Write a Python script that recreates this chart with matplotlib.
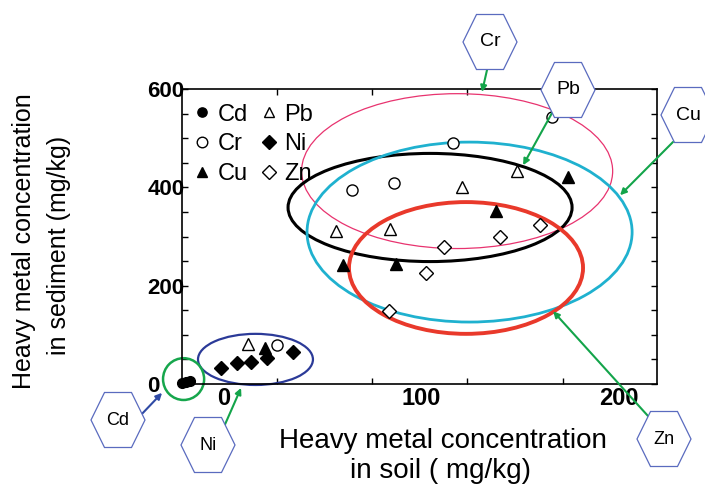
import matplotlib
matplotlib.use("Agg")
import matplotlib.pyplot as plt
from matplotlib.patches import Ellipse, Polygon

plt.rcParams['font.family'] = ['Liberation Sans', 'DejaVu Sans']

# ---- data (soil mg/kg, sediment mg/kg) ----
cd_x = [-21.3, -19.2, -17.2]
cd_y = [2, 4, 6]
cr_x = [26.8, 64.8, 86.1, 115.9, 166.1]
cr_y = [79, 395, 409, 490, 543]
cu_x = [20.8, 60.3, 87.1, 137.7, 174.2]
cu_y = [73, 242, 244, 352, 421]
pb_x = [12.2, 56.7, 84.1, 120.5, 148.4]
pb_y = [81, 311, 315, 401, 433]
ni_x = [-1.5, 6.6, 13.7, 21.8, 34.9]
ni_y = [33, 43, 45, 53, 65]
zn_x = [83.5, 102.3, 111.4, 139.7, 160.0]
zn_y = [149, 226, 279, 299, 323]

# cluster ellipses: name, centre x, centre y, width, height
clusters = ['Cr', 'Pb', 'Cu', 'Zn', 'Ni', 'Cd']
ell_cx = [118.0, 104.3, 124.3, 122.5, 15.9, -20.5]
ell_cy = [433, 359, 309, 236, 50, 10]
ell_w = [157.5, 143.8, 164.6, 118.5, 58.2, 20.8]
ell_h = [315, 220, 366, 268, 104, 85]
ell_col = ['#e8336f', 'black', '#1fb1cf', '#e9392b', '#2b3a98', '#16a64c']
ell_lw = [0.9, 2.2, 2.0, 2.8, 1.6, 1.8]

# callout arrow targets (data) for each cluster
arrow_tx = [130.6, 151.4, 200.5, 166.6, 8.6, -31.4]
arrow_ty = [594, 445, 384, 148, -8, -18]

xtick_labels = [0, 100, 200]
ytick_labels = [0, 200, 400, 600]

fig = plt.figure(figsize=(7.05, 4.86), dpi=100)
W, H = 705, 486
ax = fig.add_axes([182 / W, 1 - 384 / H, 475 / W, 295 / H])
ax.set_xlim(-21.3, 219.2)
ax.set_ylim(0, 600)

for cx, cy, w, h, c, lw in zip(ell_cx, ell_cy, ell_w, ell_h, ell_col, ell_lw):
    ax.add_patch(Ellipse((cx, cy), w, h, fill=False, edgecolor=c, lw=lw,
                         clip_on=False, zorder=2))

mk = dict(linestyle='none', clip_on=False, zorder=4)
ax.plot(cd_x, cd_y, marker='o', ms=7, mfc='black', mec='black', label='Cd', **mk)
ax.plot(cr_x, cr_y, marker='o', ms=8, mfc='white', mec='black', mew=1.0, label='Cr', **mk)
ax.plot(cu_x, cu_y, marker='^', ms=8, mfc='black', mec='black', label='Cu', **mk)
ax.plot(pb_x, pb_y, marker='^', ms=8, mfc='white', mec='black', mew=1.0, label='Pb', **mk)
ax.plot(ni_x, ni_y, marker='D', ms=7, mfc='black', mec='black', label='Ni', **mk)
ax.plot(zn_x, zn_y, marker='D', ms=7, mfc='white', mec='black', mew=1.0, label='Zn', **mk)

leg = ax.legend(ncol=2, loc='upper left', bbox_to_anchor=(0.0, 0.99), frameon=False,
                fontsize=17, handlelength=0.7, handletextpad=0.3,
                columnspacing=0.55, labelspacing=0.32, borderaxespad=0.2,
                borderpad=0.3, markerscale=0.95)

# axes styling
for s in ax.spines.values():
    s.set_linewidth(1.2)
ax.set_xticks(xtick_labels)
ax.set_xticklabels([str(v) for v in xtick_labels], fontsize=17, fontweight='bold')
ax.tick_params(axis='x', which='major', length=0, pad=2)
ax.set_xticks([26.8, 74.9, 123.0, 171.6], minor=True)
ax.tick_params(axis='x', which='minor', direction='in', length=4, width=1.0,
               top=True, bottom=True)
ax.set_yticks(ytick_labels)
ax.set_yticklabels([str(v) for v in ytick_labels], fontsize=16, fontweight='bold')
for t in ax.get_yticklabels():
    t.set_horizontalalignment('left')
ax.set_yticks(range(0, 601, 50), minor=True)
ax.tick_params(axis='y', which='both', direction='in', length=4, width=1.0,
               left=True, right=True, pad=25)

# overlay in pixel coordinates for labels and callouts
ov = fig.add_axes([0, 0, 1, 1], zorder=5)
ov.set_xlim(0, W)
ov.set_ylim(H, 0)
ov.axis('off')

ov.text(443, 441, 'Heavy metal concentration', fontsize=20, ha='center', va='center')
ov.text(440, 471, 'in soil ( mg/kg)', fontsize=20, ha='center', va='center')
ov.text(24, 241, 'Heavy metal concentration', fontsize=18, rotation=90,
        ha='center', va='center')
ov.text(59, 245, 'in sediment (mg/kg)', fontsize=18, rotation=90,
        ha='center', va='center')

hex_cx = [490, 568, 688, 664, 208, 118]
hex_cy = [42, 90, 115, 439, 445, 420]
hex_fs = [14, 14, 14, 13, 13, 13]
arrow_sx = [487, 552, 673, 648, 223, 139]
arrow_sy = [70, 113, 142, 416, 429, 417]
arrow_col = ['#13a44a'] * 5 + ['#2f4aa5']

for name, cx, cy, fs in zip(clusters, hex_cx, hex_cy, hex_fs):
    w, h = 54, 55
    pts = [(cx - w / 2, cy), (cx - w / 4, cy - h / 2), (cx + w / 4, cy - h / 2),
           (cx + w / 2, cy), (cx + w / 4, cy + h / 2), (cx - w / 4, cy + h / 2)]
    ov.add_patch(Polygon(pts, closed=True, facecolor='white', edgecolor='#5a6bbf',
                         lw=0.9, zorder=3, clip_on=False))
    ov.text(cx, cy, name, fontsize=fs, ha='center', va='center', zorder=4)

for sx, sy, tx, ty, c in zip(arrow_sx, arrow_sy, arrow_tx, arrow_ty, arrow_col):
    ov.annotate('', xy=(tx, ty), xycoords=ax.transData, xytext=(sx, sy),
                textcoords='data', annotation_clip=False, zorder=2,
                arrowprops=dict(arrowstyle='-|>', color=c, lw=1.5,
                                mutation_scale=9, shrinkA=0, shrinkB=0))

fig.savefig('out.png', dpi=100)
